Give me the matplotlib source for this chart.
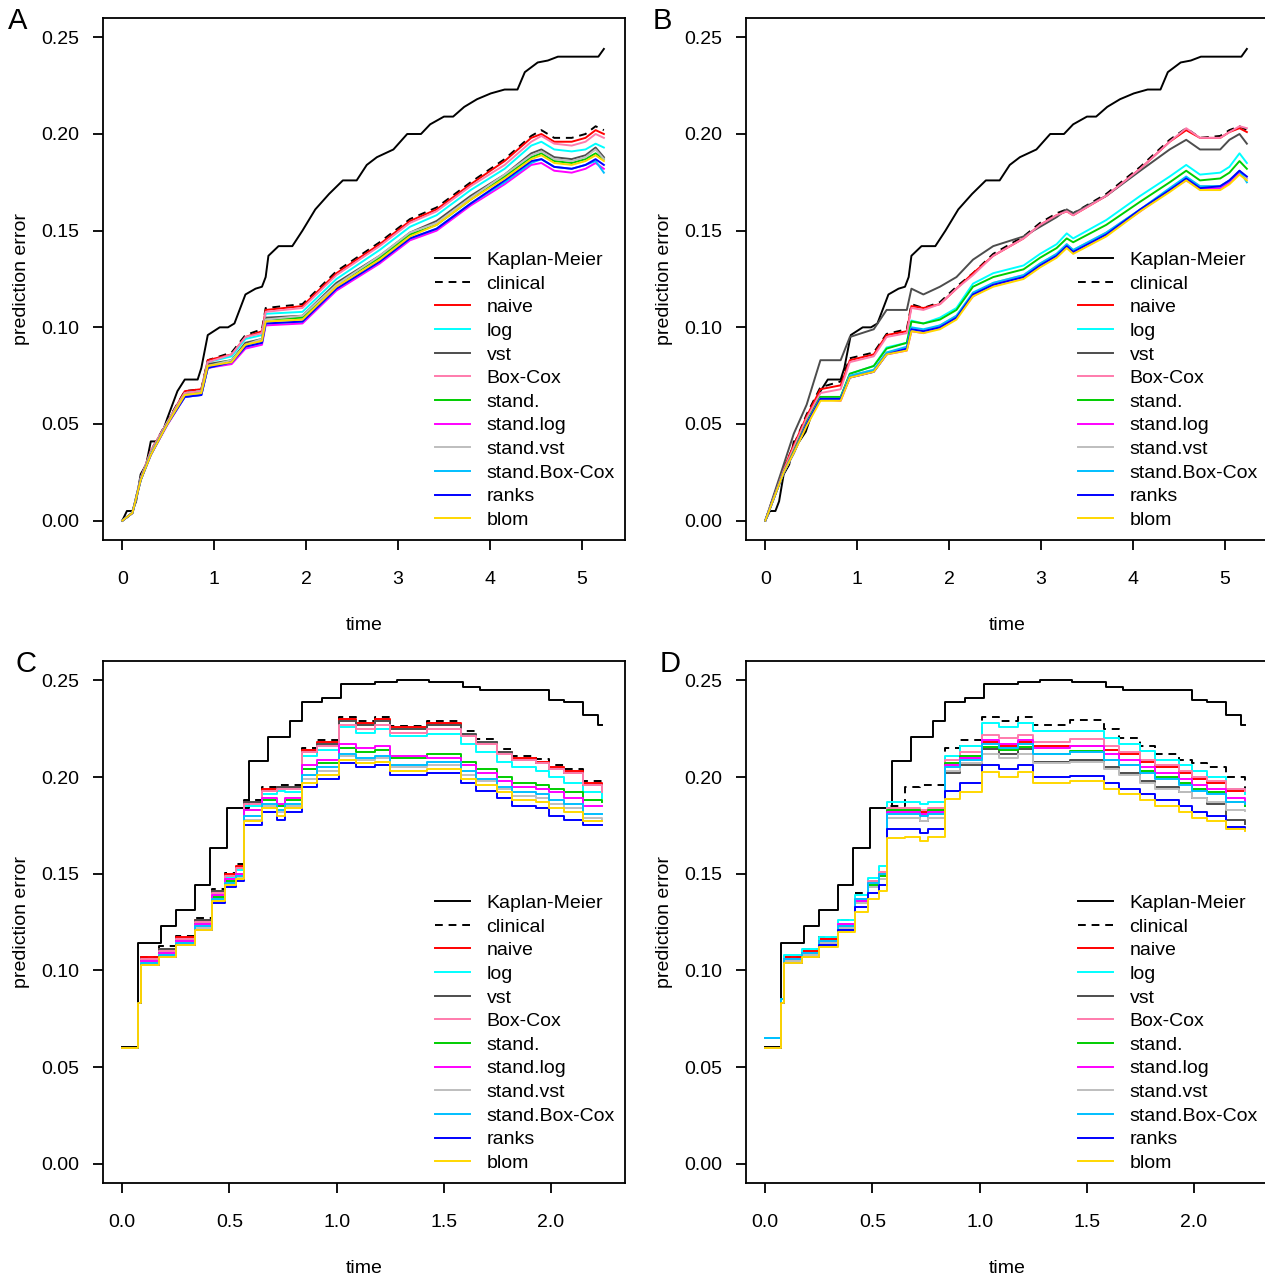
import matplotlib
matplotlib.use("Agg")
import matplotlib.pyplot as plt

plt.rcParams['font.family'] = ['Liberation Sans', 'DejaVu Sans']

labels = ["Kaplan-Meier", "clinical", "naive", "log", "vst", "Box-Cox", "stand.",
          "stand.log", "stand.vst", "stand.Box-Cox", "ranks", "blom"]
colors = ["black", "black", "#FF0000", "#00FFFF", "#4D4D4D", "#FF7BAC", "#00CD00",
          "#FF00FF", "#BEBEBE", "#00BFFF", "#0000FF", "#FFD700"]

# ---- Kaplan-Meier reference, panels A and B ----
t_km_ab = [0, 0.05, 0.11, 0.15, 0.2, 0.26, 0.31, 0.37, 0.44, 0.49, 0.6, 0.68, 0.82, 0.86, 0.93,
           1.06, 1.15, 1.22, 1.34, 1.45, 1.52, 1.56, 1.59, 1.70, 1.85, 1.96, 2.1, 2.25, 2.4, 2.55,
           2.66, 2.77, 2.95, 3.1, 3.25, 3.35, 3.5, 3.6, 3.72, 3.86, 4.01, 4.16, 4.3, 4.38, 4.52,
           4.63, 4.74, 5.18, 5.24]
km_ab = [0, .005, .005, .010, .024, .029, .041, .041, .046, .053, .067, .073, .073, .079, .096,
         .100, .100, .102, .117, .120, .121, .126, .137, .142, .142, .150, .161, .169, .176, .176,
         .184, .188, .192, .200, .200, .205, .209, .209, .214, .218, .221, .223, .223, .232, .237,
         .238, .240, .240, .244]

# ---- panel A ----
t_a = [0, 0.11, 0.2, 0.31, 0.49, 0.68, 0.86, 0.93, 1.19, 1.34, 1.52, 1.56, 1.96, 2.33, 2.8,
       3.13, 3.42, 3.79, 4.16, 4.45, 4.56, 4.7, 4.89, 5.04, 5.15, 5.24]
a_clinical = [.000, .004, .022, .036, .0515, .067, .068, .083, .087, .096, .099, .110, .112, .129, .144,
              .156, .162, .175, .187, .199, .202, .198, .198, .200, .204, .202]
a_naive = [.000, .004, .022, .036, .051, .067, .068, .083, .086, .095, .098, .109, .111, .128, .143,
           .155, .161, .174, .186, .198, .200, .196, .196, .198, .202, .200]
a_log = [.000, .004, .022, .035, .051, .066, .067, .082, .085, .094, .096, .107, .108, .125, .140,
         .152, .158, .171, .182, .194, .196, .192, .191, .192, .195, .193]
a_vst = [.000, .004, .021, .035, .050, .065, .066, .081, .083, .092, .094, .105, .106, .123, .137,
         .149, .155, .168, .179, .190, .192, .188, .187, .189, .193, .188]
a_boxcox = [.000, .004, .022, .036, .051, .066, .067, .082, .086, .095, .097, .108, .110, .127, .142,
            .154, .160, .173, .184, .196, .199, .195, .194, .196, .200, .198]
a_stand = [.000, .004, .021, .035, .050, .065, .066, .080, .083, .091, .093, .104, .105, .122, .136,
           .148, .153, .166, .178, .188, .190, .186, .185, .187, .190, .187]
a_standlog = [.000, .004, .021, .034, .0495, .064, .065, .079, .081, .089, .091, .101, .102, .119, .133,
              .145, .150, .163, .174, .184, .185, .181, .180, .182, .185, .182]
a_standvst = [.000, .004, .021, .035, .050, .065, .066, .080, .083, .091, .094, .104, .106, .122, .137,
              .149, .154, .167, .179, .189, .191, .187, .186, .188, .192, .187]
a_standbc = [.000, .004, .021, .034, .050, .064, .065, .079, .082, .090, .092, .102, .103, .120, .134,
             .146, .151, .164, .175, .185, .187, .183, .182, .184, .186, .180]
a_ranks = [.000, .004, .021, .034, .050, .064, .065, .079, .082, .090, .092, .102, .103, .120, .134,
           .146, .151, .164, .176, .186, .187, .183, .182, .184, .187, .184]
a_blom = [.000, .004, .021, .034, .050, .065, .066, .080, .082, .091, .093, .103, .104, .121, .135,
          .147, .153, .166, .177, .187, .189, .185, .184, .186, .189, .186]

# ---- panel B ----
t_b = [0, 0.2, 0.31, 0.45, 0.6, 0.82, 0.92, 1.18, 1.32, 1.54, 1.59, 1.72, 1.9, 2.08, 2.26,
       2.48, 2.81, 2.99, 3.17, 3.28, 3.35, 3.71, 4.08, 4.4, 4.58, 4.73, 4.95, 5.05, 5.16, 5.24]
b_clinical = [0, .027, .039, .055, .069, .072, .084, .087, .0966, .099, .112, .110, .113, .121, .128,
              .138, .147, .154, .159, .161, .159, .169, .183, .197, .203, .198, .199, .202, .204, .202]
b_naive = [0, .027, .039, .054, .068, .070, .083, .086, .096, .098, .111, .110, .112, .120, .128,
           .137, .146, .153, .158, .160, .158, .168, .182, .196, .202, .198, .198, .201, .203, .201]
b_log = [0, .025, .036, .0515, .064, .064, .076, .080, .0896, .092, .1035, .102, .105, .110, .1226,
         .128, .132, .138, .143, .1486, .146, .1555, .168, .178, .184, .179, .180, .183, .190, .185]
b_vst = [0, .029, .045, .060, .083, .083, .095, .099, .109, .109, .120, .117, .121, .126, .135,
         .142, .147, .152, .157, .161, .159, .168, .181, .192, .197, .192, .192, .197, .200, .195]
b_boxcox = [0, .026, .038, .053, .066, .068, .082, .085, .095, .097, .110, .109, .112, .120, .127,
            .137, .146, .153, .158, .160, .158, .168, .182, .196, .203, .198, .198, .201, .204, .203]
b_stand = [0, .025, .036, .051, .064, .064, .076, .080, .089, .092, .103, .102, .104, .109, .121,
           .126, .130, .136, .141, .146, .144, .153, .165, .175, .181, .176, .177, .180, .186, .182]
b_standlog = [0, .025, .035, .050, .063, .062, .074, .077, .086, .088, .098, .097, .100, .105, .116,
              .122, .126, .132, .137, .142, .139, .148, .160, .171, .176, .172, .172, .175, .180, .177]
b_standvst = [0, .025, .035, .050, .063, .063, .075, .078, .087, .089, .099, .098, .101, .106, .117,
              .123, .127, .133, .138, .143, .140, .149, .161, .171, .177, .173, .173, .176, .181, .177]
b_standbc = [0, .025, .035, .050, .063, .063, .075, .078, .087, .090, .100, .099, .101, .106, .118,
             .123, .127, .133, .138, .143, .140, .149, .161, .172, .178, .173, .173, .176, .181, .175]
b_ranks = [0, .025, .035, .050, .063, .063, .074, .077, .086, .089, .099, .098, .100, .105, .117,
           .122, .126, .132, .137, .142, .139, .148, .161, .171, .177, .172, .173, .176, .181, .178]
b_blom = [0, .025, .035, .049, .062, .062, .074, .077, .086, .088, .098, .097, .099, .104, .116,
          .121, .125, .131, .136, .141, .138, .147, .160, .170, .176, .171, .171, .174, .179, .176]

# ---- Kaplan-Meier reference, panels C and D (step function) ----
t_km_cd = [0, 0.075, 0.18, 0.25, 0.34, 0.41, 0.49, 0.59, 0.68, 0.78, 0.84, 0.93, 1.02, 1.18, 1.28,
           1.43, 1.59, 1.67, 1.99, 2.06, 2.15, 2.22, 2.24]
km_cd = [.0606, .114, .123, .131, .144, .1635, .184, .2085, .2206, .229, .239, .241, .248, .249, .250,
         .249, .2465, .245, .240, .239, .232, .227, .227]

# ---- panel C ----
t_c = [0, 0.075, 0.085, 0.17, 0.25, 0.34, 0.42, 0.48, 0.53, 0.57, 0.65, 0.72, 0.76, 0.84, 0.91,
       1.01, 1.09, 1.18, 1.25, 1.42, 1.58, 1.65, 1.75, 1.82, 1.93, 1.99, 2.06, 2.15, 2.24]
c_clinical = [.060, .083, .107, .1125, .1176, .127, .142, .1505, .155, .188, .1946, .196, .196, .215, .219,
              .231, .229, .231, .2266, .229, .224, .2197, .2145, .211, .2093, .206, .204, .198, .194]
c_naive = [.060, .083, .107, .111, .117, .126, .141, .150, .154, .187, .194, .195, .195, .214, .218,
           .230, .228, .230, .226, .228, .221, .217, .213, .210, .208, .205, .203, .197, .193]
c_log = [.060, .083, .106, .110, .116, .125, .139, .148, .152, .185, .191, .193, .192, .211, .214,
         .226, .223, .225, .221, .222, .217, .213, .208, .205, .203, .200, .197, .192, .189]
c_vst = [.060, .083, .106, .111, .116, .126, .141, .149, .153, .187, .193, .195, .195, .213, .217,
         .229, .227, .229, .225, .227, .222, .218, .213, .209, .207, .204, .202, .196, .193]
c_boxcox = [.060, .083, .106, .110, .116, .125, .140, .149, .153, .186, .193, .194, .194, .213, .216,
            .227, .225, .227, .223, .225, .221, .217, .212, .209, .207, .204, .202, .196, .192]
c_stand = [.060, .083, .105, .109, .115, .124, .138, .146, .150, .183, .188, .185, .188, .204, .207,
           .215, .213, .214, .210, .212, .208, .204, .200, .197, .196, .194, .192, .188, .187]
c_standlog = [.060, .083, .105, .109, .115, .124, .139, .147, .150, .183, .189, .186, .189, .206, .209,
              .217, .215, .216, .211, .210, .206, .202, .198, .195, .194, .192, .189, .185, .185]
c_standvst = [.060, .083, .104, .108, .114, .122, .137, .145, .148, .178, .185, .182, .185, .199, .203,
              .211, .209, .210, .205, .206, .201, .198, .194, .190, .189, .186, .184, .179, .178]
c_standbc = [.060, .083, .104, .108, .114, .123, .137, .145, .149, .180, .186, .183, .186, .201, .205,
             .212, .210, .211, .206, .208, .203, .199, .195, .192, .191, .188, .186, .181, .181]
c_ranks = [.060, .083, .103, .107, .113, .121, .135, .143, .146, .175, .182, .178, .182, .195, .199,
           .207, .205, .206, .201, .202, .197, .193, .189, .185, .184, .180, .178, .175, .175]
c_blom = [.060, .083, .103, .107, .113, .121, .136, .144, .147, .177, .184, .180, .184, .197, .201,
          .209, .207, .208, .203, .204, .199, .196, .192, .188, .187, .184, .182, .177, .177]

# ---- panel D ----
t_d = [0, 0.075, 0.085, 0.17, 0.25, 0.34, 0.42, 0.48, 0.53, 0.57, 0.65, 0.72, 0.76, 0.84, 0.91,
       1.01, 1.09, 1.18, 1.25, 1.42, 1.58, 1.65, 1.75, 1.82, 1.93, 1.99, 2.06, 2.15, 2.24]
d_clinical = [.060, .083, .107, .111, .117, .126, .140, .146, .150, .185, .1946, .196, .196, .215, .219,
              .231, .229, .231, .227, .2296, .2246, .220, .216, .212, .209, .207, .205, .200, .194]
d_naive = [.060, .083, .107, .110, .116, .124, .137, .145, .151, .183, .183, .182, .183, .206, .210,
           .218, .216, .218, .216, .216, .214, .212, .208, .205, .202, .199, .197, .193, .192]
d_log = [.065, .085, .108, .111, .117, .126, .139, .148, .154, .187, .187, .186, .187, .211, .216,
         .228, .226, .228, .224, .224, .220, .217, .2137, .209, .206, .203, .200, .194, .191]
d_vst = [.060, .083, .105, .108, .114, .122, .135, .143, .147, .179, .179, .177, .179, .202, .206,
         .2145, .212, .2145, .208, .209, .205, .202, .198, .195, .192, .189, .186, .178, .1756]
d_boxcox = [.060, .083, .106, .109, .115, .124, .137, .146, .151, .184, .184, .183, .184, .209, .213,
            .2215, .220, .2215, .218, .2197, .216, .213, .209, .206, .203, .200, .198, .194, .193]
d_stand = [.060, .083, .106, .109, .115, .123, .136, .144, .149, .183, .183, .181, .183, .207, .211,
           .2154, .214, .2154, .212, .2137, .209, .206, .203, .200, .197, .194, .192, .187, .185]
d_standlog = [.060, .083, .106, .109, .115, .124, .136, .145, .150, .182, .182, .181, .182, .206, .210,
              .219, .217, .219, .215, .216, .212, .209, .205, .202, .199, .196, .194, .189, .187]
d_standvst = [.060, .083, .105, .108, .114, .122, .135, .143, .147, .179, .179, .177, .179, .203, .207,
              .212, .210, .212, .207, .2076, .204, .201, .197, .194, .192, .189, .187, .183, .1825]
d_standbc = [.065, .085, .106, .109, .115, .123, .137, .145, .150, .181, .181, .180, .181, .205, .209,
             .217, .215, .217, .212, .2128, .209, .206, .202, .199, .196, .193, .191, .187, .186]
d_ranks = [.060, .083, .104, .107, .113, .121, .133, .140, .144, .173, .173, .171, .173, .193, .197,
           .206, .204, .206, .200, .2007, .197, .194, .191, .188, .185, .182, .180, .174, .1727]
d_blom = [.060, .083, .104, .107, .112, .120, .130, .137, .141, .1687, .169, .167, .169, .1886, .192,
          .2024, .200, .2024, .197, .198, .194, .191, .188, .185, .182, .179, .177, .173, .172]

W, H = 1265, 1278
FS = 14
fig = plt.figure(figsize=(W / 100, H / 100), dpi=100)


def panel(left_px, top_px, letter, letter_xy, km_t, km_v, t, series, xlim, xticks, xtl, steps):
    ax = fig.add_axes([left_px / W, 1 - (top_px + 522) / H, 522 / W, 522 / H])
    ds = 'steps-post' if steps else 'default'
    ax.plot(km_t, km_v, color='black', lw=1.4, drawstyle=ds, label=labels[0])
    for lab, col, vals in zip(labels[1:], colors[1:], series):
        if lab == 'clinical':
            ax.plot(t, vals, color=col, lw=1.4, drawstyle=ds, dashes=(4, 3), label=lab)
        else:
            ax.plot(t, vals, color=col, lw=1.4, drawstyle=ds, label=lab)
    ax.set_xlim(*xlim)
    ax.set_ylim(-0.01, 0.26)
    ax.set_xticks(xticks)
    ax.set_xticklabels(xtl)
    ax.set_yticks([0, 0.05, 0.10, 0.15, 0.20, 0.25])
    ax.set_yticklabels(["0.00", "0.05", "0.10", "0.15", "0.20", "0.25"])
    for sp in ax.spines.values():
        sp.set_linewidth(1.3)
    ax.tick_params(direction='out', length=7, width=1.3, labelsize=FS)
    ax.tick_params(axis='x', pad=15)
    ax.tick_params(axis='y', pad=10)
    ax.text(-0.157, 0.5, "prediction error", rotation=90, ha='center', va='center',
            fontsize=FS, transform=ax.transAxes)
    ax.text(0.5, -0.163, "time", ha='center', va='center', fontsize=FS, transform=ax.transAxes)
    ax.legend(loc='upper left', bbox_to_anchor=(0.636, 0.553), frameon=False, fontsize=FS,
              borderpad=0, borderaxespad=0, handlelength=1.8, handletextpad=0.85,
              labelspacing=0.31)
    fig.text(letter_xy[0] / W, 1 - letter_xy[1] / H, letter, fontsize=21, ha='center', va='center')
    return ax


xt_ab = [0, 1, 2, 3, 4, 5]
xtl_ab = ["0", "1", "2", "3", "4", "5"]
xt_cd = [0, 0.5, 1.0, 1.5, 2.0]
xtl_cd = ["0.0", "0.5", "1.0", "1.5", "2.0"]

panel(103, 18, "A", (18, 21), t_km_ab, km_ab, t_a,
      [a_clinical, a_naive, a_log, a_vst, a_boxcox, a_stand, a_standlog, a_standvst, a_standbc, a_ranks, a_blom],
      (-0.21, 5.47), xt_ab, xtl_ab, False)
panel(746, 18, "B", (662, 21), t_km_ab, km_ab, t_b,
      [b_clinical, b_naive, b_log, b_vst, b_boxcox, b_stand, b_standlog, b_standvst, b_standbc, b_ranks, b_blom],
      (-0.21, 5.47), xt_ab, xtl_ab, False)
panel(103, 661, "C", (26, 664), t_km_cd, km_cd, t_c,
      [c_clinical, c_naive, c_log, c_vst, c_boxcox, c_stand, c_standlog, c_standvst, c_standbc, c_ranks, c_blom],
      (-0.09, 2.345), xt_cd, xtl_cd, True)
panel(746, 661, "D", (670, 664), t_km_cd, km_cd, t_d,
      [d_clinical, d_naive, d_log, d_vst, d_boxcox, d_stand, d_standlog, d_standvst, d_standbc, d_ranks, d_blom],
      (-0.09, 2.345), xt_cd, xtl_cd, True)

fig.savefig("out.png", dpi=100)
